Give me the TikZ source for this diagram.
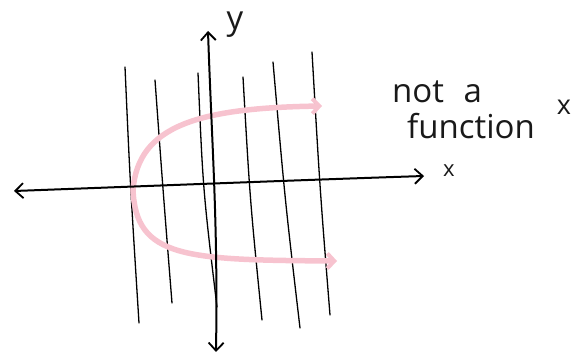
\documentclass[tikz,border=0pt]{standalone}
\usepackage{fontspec}
\setmainfont{Open Sans}
\usetikzlibrary{arrows.meta}
\definecolor{pinkcurve}{HTML}{F7C3CF}
\tikzset{
  axisline/.style={line width=2pt, black, line cap=round, {Straight Barb[length=8pt,width=15pt,line width=1.8pt]}-{Straight Barb[length=8pt,width=15pt,line width=1.8pt]}},
  vline/.style={line width=1.3pt, black, line cap=round},
  pinkarrow/.style={line width=5.5pt, pinkcurve, line cap=round, -{Straight Barb[length=7pt,width=15pt,line width=4pt]}},
  hand/.style={font=\fontsize{33}{33}\selectfont, inner sep=0pt, black!90},
  handsmall/.style={font=\fontsize{22}{22}\selectfont, inner sep=0pt, black!90},
  handmid/.style={font=\fontsize{27}{27}\selectfont, inner sep=0pt, black!90}
}
\begin{document}
\begin{tikzpicture}[x=1pt,y=-1pt]
\useasboundingbox (0,0) rectangle (587,358);
% coordinates
\coordinate (xl) at (14,191);
\coordinate (xr) at (424,176);
\coordinate (yt) at (208,31);
\coordinate (yb) at (216,352);
\coordinate (vtx) at (133,190);
\coordinate (ue) at (322,106);
\coordinate (le) at (337,261);
% vertical line test lines
\draw[vline] (125,67) .. controls (130,180) .. (139,323);
\draw[vline] (155,80) .. controls (163,190) .. (172,303);
\draw[vline] (198,73) .. controls (203,190) .. (217,307);
\draw[vline] (243,77) .. controls (250,200) .. (262,320);
\draw[vline] (273,62) .. controls (285,200) .. (300,328);
\draw[vline] (312,52) .. controls (320,190) .. (330,315);
% pink sideways parabola
\draw[pinkarrow] (vtx) .. controls (138,125) and (200,108) .. (ue);
\draw[pinkarrow] (vtx) .. controls (136,258) and (185,260) .. (le);
% axes
\draw[axisline] (xl) .. controls (150,186) and (300,180) .. (xr);
\draw[axisline] (yt) .. controls (212,150) and (218,220) .. (yb);
% labels
\node[hand, anchor=base] (ylab) at (235,30) {y};
\node[handsmall, anchor=base] (xlab) at (449,177) {x};
\node[hand, anchor=base west] (nota) at (392,103) {not\,\, a};
\node[hand, anchor=base west] (func) at (407,139) {function};
\node[handmid, anchor=base] (cross) at (564,115) {x};
\end{tikzpicture}
\end{document}
